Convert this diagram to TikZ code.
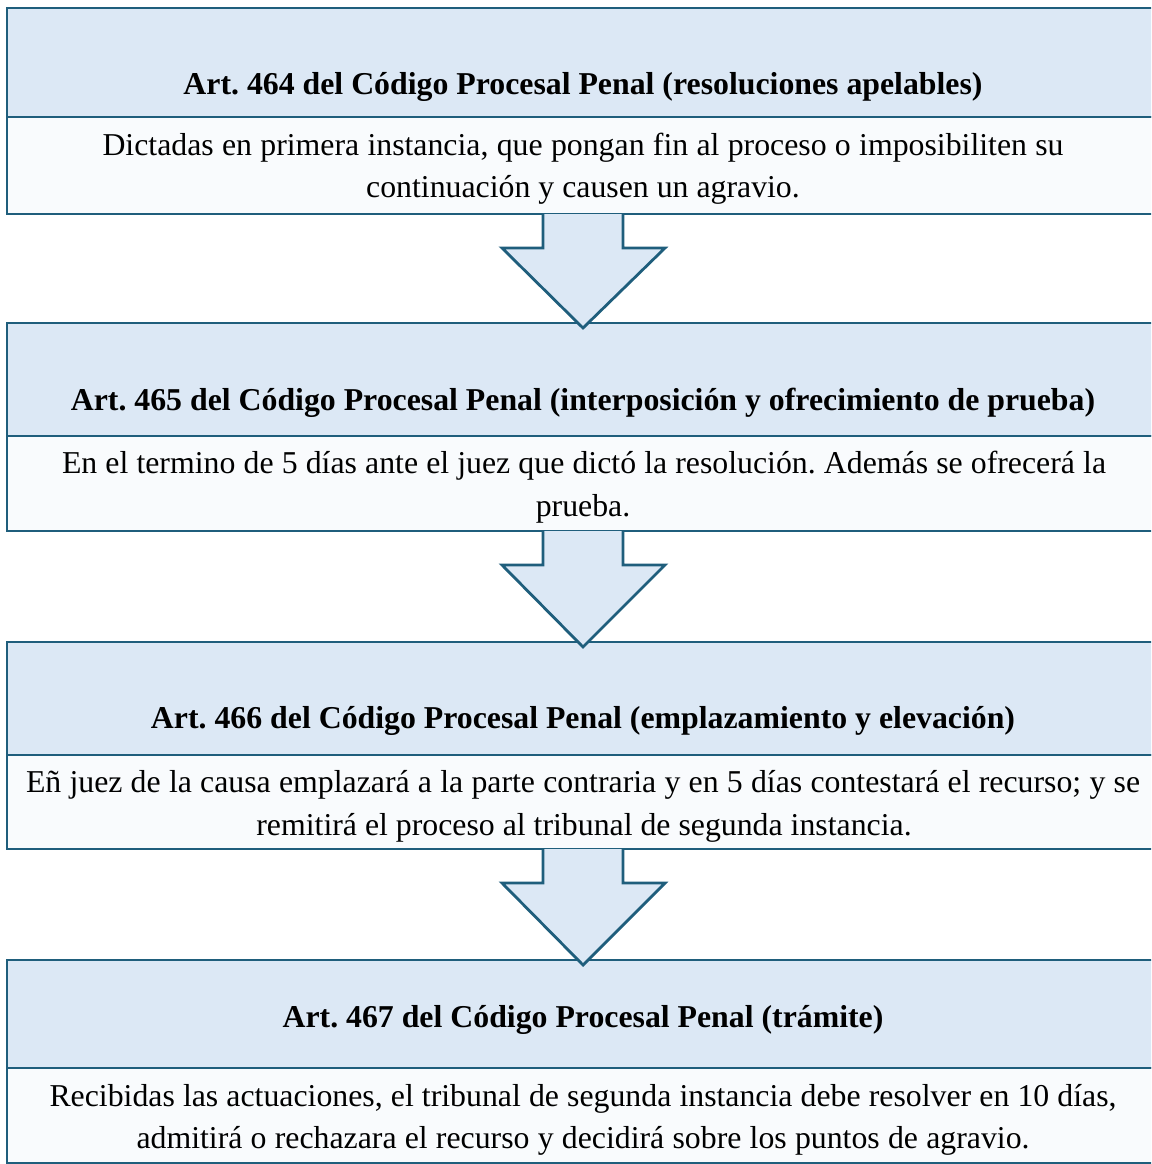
\documentclass[tikz,border=0pt]{standalone}
\usepackage{fontspec}
\setmainfont{Liberation Serif}
\usetikzlibrary{calc}
\definecolor{edge}{RGB}{31,94,124}
\definecolor{headfill}{RGB}{220,232,245}
\definecolor{bodyfill}{RGB}{249,251,253}
\tikzset{
  boxbase/.style={draw=edge, line width=2.8pt, rectangle, minimum width=1152pt, inner sep=0pt, outer sep=0pt},
  headbox/.style={boxbase, fill=headfill},
  bodybox/.style={boxbase, fill=bodyfill},
  headtxt/.style={anchor=base, inner sep=0pt, font=\fontsize{31.8}{38}\selectfont\bfseries},
  bodytxt/.style={anchor=base, inner sep=0pt, font=\fontsize{31.8}{38}\selectfont},
  blockarrow/.style={draw=edge, fill=headfill, line width=2.8pt, line join=miter}
}
\newcommand{\stretchline}[2]{\makebox[#1pt][s]{#2}}
\frenchspacing
\begin{document}
\begin{tikzpicture}[x=1pt,y=-1pt]
\useasboundingbox (0,0) rectangle (1151,1164);
\begin{scope}
\clip (0,0) rectangle (1151,1164);
% boxes
\node[headbox, minimum height=109pt] (h1) at (583,62.5) {};
\node[bodybox, minimum height=97pt] (b1) at (583,165.5) {};
\node[headbox, minimum height=113pt] (h2) at (583,379.5) {};
\node[bodybox, minimum height=95pt] (b2) at (583,483.5) {};
\node[headbox, minimum height=113pt] (h3) at (583,698.5) {};
\node[bodybox, minimum height=94pt] (b3) at (583,802) {};
\node[headbox, minimum height=108pt] (h4) at (583,1014) {};
\node[bodybox, minimum height=95pt] (b4) at (583,1115.5) {};
% arrows
\foreach \a/\b in {b1/h2,b2/h3,b3/h4}{
  \draw[blockarrow] ($(\a.south)+(-40,0)$) -- ++(0,34) -- ++(-41,0) -- ($(\b.north)+(0,5)$)
     -- ($(\a.south)+(82,34)$) -- ++(-42,0) -- ($(\a.south)+(40,0)$);
}
\end{scope}
% texts
\node[headtxt] (t1) at (583,94) {Art. 464 del Código Procesal Penal (resoluciones apelables)};
\node[bodytxt] (u1a) at (583,155) {\stretchline{961}{Dictadas en primera instancia, que pongan fin al proceso o imposibiliten su}};
\node[bodytxt] (u1b) at (583,197) {continuación y causen un agravio.};
\node[headtxt] (t2) at (583,410) {Art. 465 del Código Procesal Penal (interposición y ofrecimiento de prueba)};
\node[bodytxt] (u2a) at (584,473) {\stretchline{1044}{En el termino de 5 días ante el juez que dictó la resolución. Además se ofrecerá la}};
\node[bodytxt] (u2b) at (583,516) {prueba.};
\node[headtxt] (t3) at (583,728) {Art. 466 del Código Procesal Penal (emplazamiento y elevación)};
\node[bodytxt] (u3a) at (583,792) {\stretchline{1114}{Eñ juez de la causa emplazará a la parte contraria y en 5 días contestará el recurso; y se}};
\node[bodytxt] (u3b) at (584,835) {remitirá el proceso al tribunal de segunda instancia.};
\node[headtxt] (t4) at (583,1027) {Art. 467 del Código Procesal Penal (trámite)};
\node[bodytxt] (u4a) at (583,1106) {\stretchline{1067}{Recibidas las actuaciones, el tribunal de segunda instancia debe resolver en 10 días,}};
\node[bodytxt] (u4b) at (583,1148) {\stretchline{893}{admitirá o rechazara el recurso y decidirá sobre los puntos de agravio.}};
\end{tikzpicture}
\end{document}
